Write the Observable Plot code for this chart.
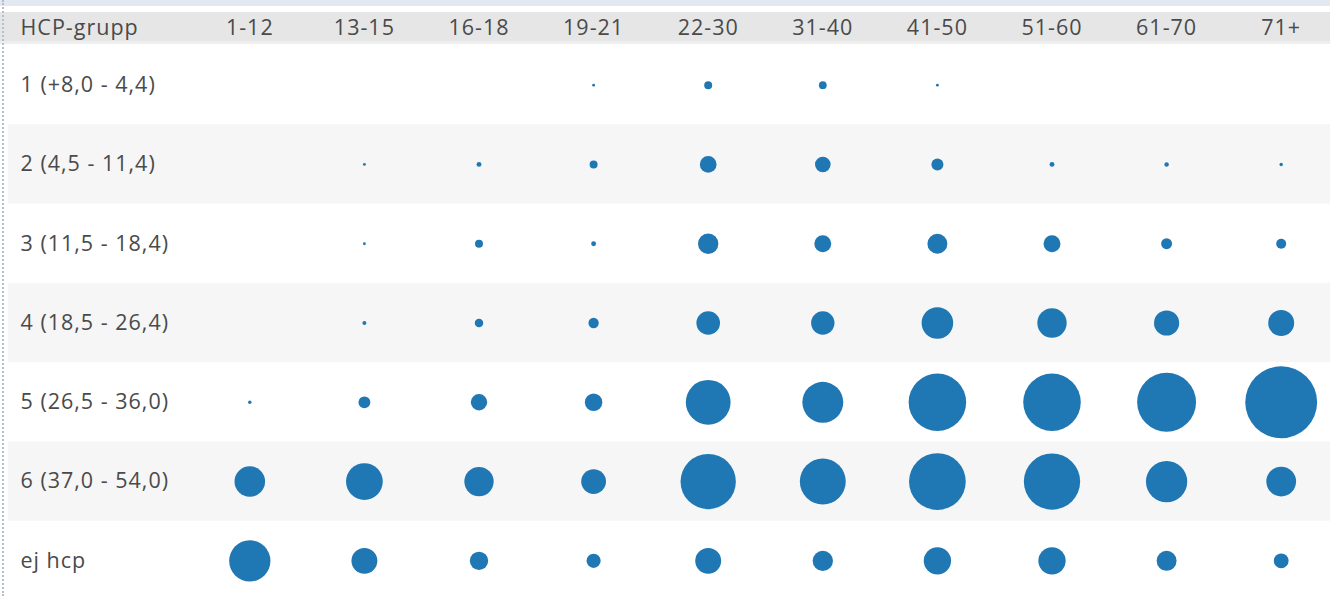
<!DOCTYPE html>
<html>
<head>
<meta charset="utf-8">
<script src="https://cdn.jsdelivr.net/npm/d3@7"></script>
<script src="https://cdn.jsdelivr.net/npm/@observablehq/plot@0.6"></script>
<style>
  html, body { margin: 0; padding: 0; background: #fff; overflow: hidden; }
  #wrap {
    position: relative; width: 1330px; height: 596px; overflow: hidden;
    background: linear-gradient(to bottom, #e3e9f1 0px, #e3e9f1 6px, #ffffff 6px, #ffffff 12px, #e6e6e6 12px, #e6e6e6 41px, #eeeeee 41px, #eeeeee 44px, #ffffff 44px);
  }
  #border { position: absolute; left: 2px; top: 0; height: 596px; width: 0; border-left: 2px dotted #b3bfcc; }
  #chart { position: absolute; left: 0; top: 0; }
  #chart svg text { letter-spacing: 1px; }
</style>
</head>
<body>
<div id="wrap"><div id="chart"></div><div id="border"></div></div>
<script>
const ageGroups = ["1-12","13-15","16-18","19-21","22-30","31-40","41-50","51-60","61-70","71+"];
const hcpGroups = ["1 (+8,0 - 4,4)", "2 (4,5 - 11,4)", "3 (11,5 - 18,4)", "4 (18,5 - 26,4)", "5 (26,5 - 36,0)", "6 (37,0 - 54,0)", "ej hcp"];
const shadedRows = ["2 (4,5 - 11,4)", "4 (18,5 - 26,4)", "6 (37,0 - 54,0)"];

// relative bubble values (area-proportional), per HCP group across age groups
const hcp1 = [null, null, null, 2, 16, 15, 2, null, null, null];
const hcp2 = [null, 2, 6, 16, 70, 61, 36, 6, 5, 3];
const hcp3 = [null, 2, 16, 6, 104, 72, 100, 72, 30, 25];
const hcp4 = [null, 4, 18, 27, 140, 137, 250, 216, 159, 169];
const hcp5 = [3, 35, 67, 77, 502, 420, 829, 829, 870, 1296];
const hcp6 = [234, 339, 216, 154, 767, 529, 807, 795, 428, 222];
const ejHcp = [428, 169, 85, 50, 169, 104, 188, 188, 100, 55];

const series = [hcp1, hcp2, hcp3, hcp4, hcp5, hcp6, ejHcp];
const table = [];
series.forEach((vals, i) => vals.forEach((v, j) => {
  if (v != null) table.push({hcp: hcpGroups[i], age: ageGroups[j], value: v});
}));

const chart = Plot.plot({
  width: 1330,
  height: 596,
  marginTop: 45,
  marginBottom: 0,
  marginLeft: 8,
  marginRight: 0,
  style: {fontFamily: "'Open Sans', sans-serif", fontSize: "21.5px", color: "#4a4a4a", background: "transparent", overflow: "visible"},
  x: {type: "band", domain: ageGroups, range: [192, 1338], padding: 0, round: false},
  y: {type: "band", domain: hcpGroups, range: [45, 600], padding: 0, round: false},
  r: {type: "sqrt", domain: [0, 1300], range: [0, 36]},
  marks: [
    Plot.cell(shadedRows, {y: d => d, fill: "#f6f6f6", inset: 0}),
    Plot.axisX({anchor: "top", tickSize: 0, tickPadding: 17, lineAnchor: "middle", fontSize: 21.5, label: null}),
    Plot.axisY({anchor: "left", tickSize: 0, tickPadding: 0, textAnchor: "start", dx: 12, fontSize: 21.5, label: null}),
    Plot.text(["HCP-grupp"], {frameAnchor: "top-left", dx: 12, dy: -17, textAnchor: "start", lineAnchor: "middle", fontSize: 21.5}),
    Plot.dot(table, {x: "age", y: "hcp", r: "value", fill: "#1f77b4", stroke: null})
  ]
});
document.getElementById("chart").appendChild(chart);
</script>
</body>
</html>
